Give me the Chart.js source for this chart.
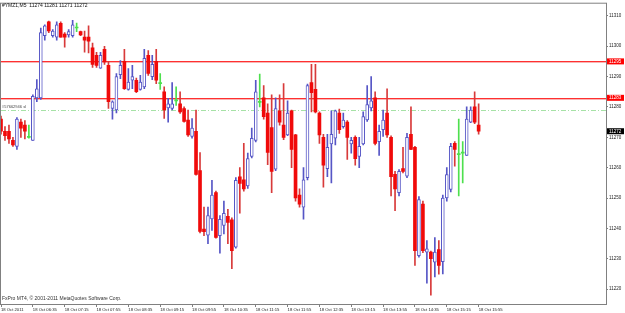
<!DOCTYPE html>
<html lang="en">
<head>
<meta charset="UTF-8">
<title>#YMZ1,M5</title>
<style>
  html, body { margin: 0; padding: 0; background: #fff; }
</style>
</head>
<body>
<canvas id="myChart" width="625" height="313"></canvas>

<script src="https://cdn.jsdelivr.net/npm/chart.js"></script>
<script>
  // M5 bars, 18 Oct 2011 05:55 .. 15:55 (121 bars)
  const opens = [11276,11272,11272,11269,11267,11275,11274,11270,11269,11283,
    11283,11303.5,11308,11303.5,11303,11307.5,11304,11303.7,11303.5,11306,
    11304.8,11303,11303,11299.5,11297,11292.8,11299,11293.7,11279.5,11279,
    11290.6,11295,11285.8,11288.8,11288.8,11285.8,11286.6,11297,11290,11295,
    11287.7,11285,11279.7,11279.5,11282,11281,11279.5,11275.7,11270.3,11272,
    11259,11239.8,11237.8,11243.1,11251.8,11237.6,11241,11244,11242.8,11233.8,
    11257,11256,11254,11263.7,11269,11281.5,11283,11278,11273.2,11259.5,
    11278.7,11274,11270.8,11278.7,11270.8,11251,11247,11256.7,11288,11285.8,
    11278,11270,11259.7,11267.8,11269.7,11278,11273.5,11275,11267.8,11270,
    11263.7,11267.8,11275.7,11279.7,11283,11268.6,11272.5,11278,11270,11257.8,
    11251.8,11259.7,11257.2,11271,11266.7,11231,11248,11232.2,11232.2,11228.9,
    11233,11229,11250,11252.8,11268,11264.3,11264.8,11264,11275,11280,
    11274];
  const highs = [11277,11273.5,11274,11270,11276.5,11276,11275.5,11274,11284,11289,
    11306,11307,11308.3,11305.5,11308,11308,11304.5,11305.5,11308.5,11307.6,
    11305,11305,11306.7,11301,11298,11298,11300,11295,11282,11291,
    11295.3,11299,11292.6,11293.7,11289.5,11290.4,11299,11298.6,11297,11299,
    11291,11286.6,11282.8,11288,11286.6,11285,11280,11279,11276.2,11279,
    11265,11247,11247,11255.8,11252.3,11244.2,11249,11246.3,11243.5,11256.7,
    11260,11268,11264.8,11273,11288.8,11290.8,11287,11281,11284,11283,
    11284,11287.7,11282,11279,11271,11253,11260,11287.5,11294,11294,
    11278.4,11271,11271,11278.7,11279,11279.3,11278,11275.5,11270,11270.5,
    11270,11278.4,11287,11290,11285,11274,11279,11286,11270.5,11258.8,
    11259.4,11266.7,11271.3,11280,11267,11250.5,11249,11236,11232.5,11237,
    11236,11251,11260,11268,11268.6,11276,11268.6,11280,11280,11285,
    11281];
  const lows = [11271,11269,11268,11267,11266,11270,11269.5,11269.7,11269,11281.7,
    11282.5,11302,11304.5,11303,11302,11303,11299.7,11303,11303,11304.8,
    11303.5,11298,11297.8,11293,11293,11292.7,11294,11279.5,11276,11278,
    11289.3,11285.8,11285.5,11286,11284.7,11285.5,11286,11290.4,11289,11287.7,
    11285.8,11276.2,11275,11279,11280.5,11277.9,11275,11270.3,11269.7,11257.5,
    11238.5,11237.6,11235,11239.3,11236.8,11231.8,11238.2,11235,11226.7,11233.5,
    11245,11252.3,11253.2,11263.2,11268.5,11280,11276,11261,11251.8,11259,
    11274,11269.2,11270.5,11260,11249,11247,11243,11256,11278.4,11278,
    11268,11253.6,11257,11255,11267.5,11271.3,11273,11262.7,11264.8,11260.8,
    11260,11267.5,11275.2,11278.7,11267.5,11264,11270.3,11270,11250.7,11245.8,
    11250.7,11258.3,11256.7,11265.9,11227.8,11230.5,11232,11222,11218,11224,
    11224.9,11225,11249,11252,11260.5,11250.7,11255,11264,11274.8,11274.5,
    11271];
  const closes = [11272,11270.5,11269.5,11267.5,11276,11273,11272,11270,11283.5,11286,
    11304.5,11306.7,11305,11305,11307,11303,11303,11304.8,11307,11306,
    11303.7,11302,11301.7,11294,11293.7,11297,11294.8,11281.7,11281.7,11290,
    11293.7,11286,11288.2,11290,11285,11288.2,11296,11291,11294,11288.8,
    11287.7,11279,11281,11281,11282,11278.4,11275.2,11270.8,11273,11257.8,
    11239,11238.9,11244.2,11251,11237,11243,11245,11242,11232.7,11255.8,
    11254.8,11253,11263,11269.7,11285,11281.5,11276.8,11265,11258.8,11279.5,
    11275,11270,11278,11266,11250,11248,11256,11287,11284.7,11278.4,
    11270.8,11260.8,11266.7,11271,11278.7,11272.5,11275.7,11270,11269,11263,
    11267,11276.8,11280.8,11282,11268,11272,11275.7,11270.8,11257,11253,
    11258.8,11258.8,11270,11266,11232.7,11249.5,11232.7,11233.3,11230,11232.2,
    11227.8,11250,11257.7,11267,11266,11264.3,11264.8,11276,11279,11275,
    11272];

  const xTickLabels = ['18 Oct 2011','18 Oct 06:35','18 Oct 07:15','18 Oct 07:55',
    '18 Oct 08:35','18 Oct 09:15','18 Oct 09:55','18 Oct 10:35','18 Oct 11:15',
    '18 Oct 11:55','18 Oct 12:35','18 Oct 13:15','18 Oct 13:55','18 Oct 14:35',
    '18 Oct 15:15','18 Oct 15:55'];
  const yTicks = [11220,11230,11240,11250,11260,11270,11280,11290,11300,11310];

  const redLevels = [11295, 11283];
  const slLevel = 11279;
  const slText = '#57662946 sl';
  const lastPrice = 11272;
  const headerText = '#YMZ1,M5  11274 11281 11271 11272';
  const footerText = 'FxPro MT4, \u00a9 2001-2011 MetaQuotes Software Corp.';

  // 121 bars plus the empty shift area on the right
  const slotCount = 153;
  const times = [];
  for (let i = 0; i < slotCount; i++) {
    const m = 5 * 60 + 55 + 5 * i;
    times.push(String(Math.floor(m / 60)).padStart(2, '0') + ':' + String(m % 60).padStart(2, '0'));
  }

  const BLUE = '#5656c6';
  const RED = '#f00a0a';
  const RED_WICK = '#d83a3a';
  const LIME = '#4ee04e';

  const kind = opens.map((o, i) => closes[i] > o ? 'up' : (closes[i] < o ? 'down' : 'doji'));
  const bodyData = opens.map((o, i) => [o, closes[i]]);
  const wickData = lows.map((l, i) => [l, highs[i]]);

  const overlay = {
    id: 'overlay',
    beforeDatasetsDraw(chart) {
      const {ctx, chartArea: a, scales: {y}} = chart;
      ctx.save();
      ctx.lineWidth = 1;
      ctx.strokeStyle = '#808080';
      ctx.strokeRect(a.left - 0.5, a.top - 0.5, a.right - a.left + 1, a.bottom - a.top + 1);

      // horizontal levels (red, slightly soft like the screenshot)
      redLevels.forEach(v => {
        const py = Math.round(y.getPixelForValue(v));
        ctx.fillStyle = '#ff3030';
        ctx.fillRect(a.left, py, a.right - a.left, 1);
        ctx.fillStyle = '#f8b4b4';
        ctx.fillRect(a.left, py + 1, a.right - a.left, 1);
      });

      ctx.strokeStyle = '#a6e2a6';
      ctx.setLineDash([5, 2, 1, 2]);
      const sy = Math.round(y.getPixelForValue(slLevel)) + 0.5;
      ctx.beginPath(); ctx.moveTo(a.left, sy); ctx.lineTo(a.right, sy); ctx.stroke();
      ctx.setLineDash([]);
      ctx.restore();
    },
    afterDraw(chart) {
      const {ctx, chartArea: a, scales: {y}} = chart;
      ctx.save();
      ctx.textBaseline = 'top';
      ctx.fillStyle = '#111';
      ctx.font = '5px "Liberation Sans"';
      ctx.fillText(headerText, 2, 3);
      ctx.fillStyle = '#333';
      ctx.fillText(footerText, 2, 296);

      ctx.font = '4px "Liberation Sans"';
      ctx.fillStyle = '#444';
      ctx.textBaseline = 'bottom';
      ctx.fillText(slText, 2, y.getPixelForValue(slLevel) - 1);

      // price boxes on the right axis
      ctx.textBaseline = 'middle';
      ctx.font = '4.5px "Liberation Sans"';
      const box = (v, bg) => {
        const py = y.getPixelForValue(v);
        ctx.fillStyle = bg;
        ctx.fillRect(a.right + 1, py - 3, 17, 6);
        ctx.fillStyle = '#fff';
        ctx.fillText(String(v), a.right + 3, py + 0.3);
      };
      redLevels.forEach(v => box(v, '#ff0000'));
      box(lastPrice, '#000000');
      ctx.restore();
    }
  };

  const ctx = document.getElementById('myChart');

  new Chart(ctx, {
    type: 'bar',
    data: {
      labels: times,
      datasets: [{
        label: 'body',
        data: bodyData,
        order: 0,
        grouped: false,
        barThickness: 3,
        minBarLength: 1,
        borderSkipped: false,
        backgroundColor: kind.map(k => k === 'up' ? '#ffffff' : (k === 'down' ? RED : LIME)),
        borderColor: kind.map(k => k === 'up' ? BLUE : 'rgba(0,0,0,0)'),
        borderWidth: kind.map(k => k === 'up' ? 1 : 0)
      }, {
        label: 'wick',
        data: wickData,
        order: 1,
        grouped: false,
        barThickness: 1,
        backgroundColor: kind.map(k => k === 'up' ? BLUE : (k === 'down' ? RED_WICK : LIME)),
        borderWidth: 0
      }]
    },
    options: {
      responsive: false,
      animation: false,
      layout: { padding: { left: 1, top: 1, right: 0, bottom: 0 }, autoPadding: false },
      plugins: {
        legend: { display: false },
        tooltip: { enabled: false },
        title: { display: false }
      },
      scales: {
        x: {
          type: 'category',
          offset: false,
          afterFit: axis => { axis.height = 9; },
          grid: { drawOnChartArea: false, offset: false, tickLength: 3, color: '#808080' },
          border: { color: '#808080' },
          ticks: {
            autoSkip: false,
            maxRotation: 0,
            minRotation: 0,
            align: 'start',
            padding: 0,
            color: '#222',
            font: { family: 'Liberation Sans', size: 4.2 },
            callback: (v, i) => (i % 8 === 0 && i / 8 < xTickLabels.length) ? xTickLabels[i / 8] : null
          }
        },
        y: {
          position: 'right',
          min: 11215.1,
          max: 11314,
          afterBuildTicks: axis => { axis.ticks = yTicks.map(v => ({ value: v })); },
          afterFit: axis => { axis.width = 19; },
          grid: { drawOnChartArea: false, tickLength: 2, color: '#808080' },
          border: { color: '#808080' },
          ticks: {
            padding: 1,
            color: '#222',
            font: { family: 'Liberation Sans', size: 4.5 },
            callback: v => String(v)
          }
        }
      }
    },
    plugins: [overlay]
  });
</script>
</body>
</html>
